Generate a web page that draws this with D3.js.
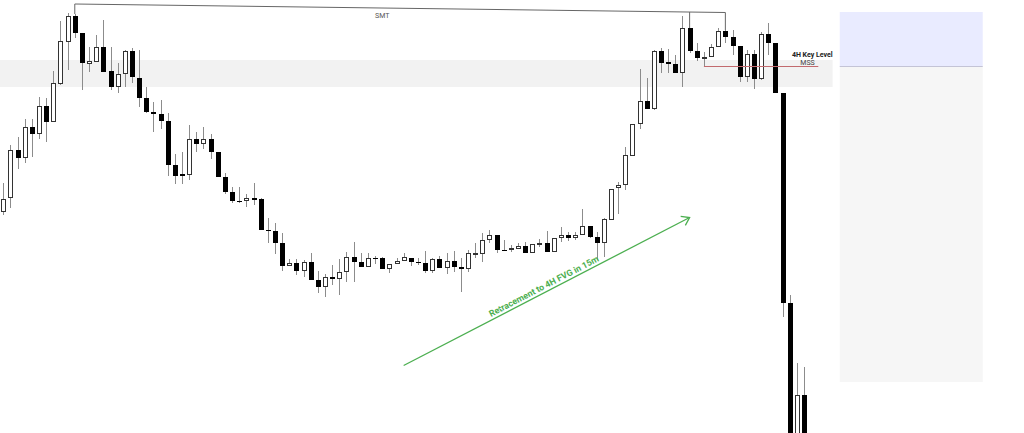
<!DOCTYPE html>
<html>
<head>
<meta charset="utf-8">
<script src="https://cdn.jsdelivr.net/npm/d3@7"></script>
<style>
  html, body { margin: 0; padding: 0; background: #fff; overflow: hidden; }
</style>
</head>
<body>
<div id="chart"></div>
<script>
const width = 1024;
const height = 433;

// OHLC prices, one entry per candle
const open = [18076,18104,18200,18184,18246,18232,18288,18256,18332,18416,
  18468,18434,18372,18376,18406,18358,18326,18352,18398,18344,
  18304,18276,18272,18258,18170,18152,18150,18222,18212,18222,
  18196,18146,18116,18098,18098,18104,18102,18040,18038,18014,
  17968,17974,17958,17976,17940,17926,17946,17942,17956,17986,
  17976,17966,17984,17984,17962,17972,17978,17984,17976,17974,
  17958,17982,17964,17978,17966,17962,17992,17992,18020,18030,
  18000,18000,18002,18008,17994,18012,18014,17996,18024,18030,
  18024,18030,18048,18026,18014,18060,18124,18130,18188,18252,
  18298,18282,18398,18376,18372,18354,18444,18398,18382,18386,
  18406,18438,18426,18408,18346,18392,18342,18432,18414,18314,
  17894,17580,17710];
const high = [18134,18210,18226,18262,18262,18306,18304,18358,18458,18474,
  18472,18434,18406,18430,18460,18406,18374,18400,18404,18400,
  18326,18296,18300,18274,18192,18196,18250,18236,18246,18232,
  18196,18154,18126,18126,18112,18134,18104,18064,18054,18034,
  17982,17982,17980,17994,17958,17952,17970,17982,17996,18016,
  17994,17994,17988,17986,17972,17984,17994,17984,17984,17998,
  17984,17988,17994,17998,17984,18000,18014,18034,18040,18030,
  18020,18010,18014,18016,18012,18022,18038,18024,18046,18036,
  18036,18082,18048,18036,18064,18122,18136,18206,18252,18362,
  18344,18400,18404,18402,18390,18468,18444,18414,18396,18412,
  18444,18440,18440,18408,18400,18400,18436,18454,18414,18314,
  17910,17774,17766];
const low = [18070,18084,18162,18174,18186,18222,18216,18256,18330,18360,
  18424,18320,18356,18376,18356,18320,18314,18326,18334,18286,
  18274,18236,18242,18148,18132,18132,18140,18196,18202,18182,
  18146,18112,18094,18094,18086,18090,18040,18014,17992,17958,
  17968,17950,17946,17940,17914,17906,17930,17910,17936,17936,
  17966,17966,17972,17962,17954,17972,17978,17968,17970,17954,
  17954,17964,17952,17956,17916,17956,17984,17976,18014,17994,
  17998,17996,18002,17994,17994,18006,17996,17996,18016,18018,
  18020,18030,18024,17980,17986,18060,18072,18120,18188,18242,
  18282,18280,18354,18354,18354,18326,18394,18378,18366,18386,
  18406,18414,18390,18336,18336,18322,18340,18390,18314,17866,
  17560,17560,17560];
const close = [18102,18200,18184,18246,18232,18288,18256,18334,18418,18468,
  18434,18374,18378,18406,18356,18326,18352,18398,18346,18304,
  18276,18272,18258,18170,18148,18148,18222,18212,18222,18196,
  18146,18116,18098,18096,18104,18100,18040,18038,18014,17968,
  17974,17958,17976,17940,17926,17946,17942,17956,17986,17976,
  17966,17984,17982,17962,17972,17978,17986,17976,17974,17958,
  17982,17964,17978,17966,17962,17994,17994,18020,18030,18000,
  17998,18004,18008,17994,18012,18014,17996,18024,18030,18024,
  18030,18048,18026,18014,18062,18122,18130,18190,18252,18298,
  18282,18398,18374,18372,18354,18444,18398,18384,18386,18406,
  18438,18426,18408,18346,18392,18342,18432,18414,18314,17894,
  17580,17710,17580];

// annotation levels (bar index, price)
const keyLevel = [18380, 18326];
const keyLevelBars = [-1, 116];
const mssPrice = 18367;
const mssBars = [98, 114];
const smtLine = [[10, 18492], [101, 18475]];
const smtBars = [10, 96, 101];
const panelBars = [117, 137];
const panelPrices = [18476, 18367, 17736];
const arrowFrom = [56, 17769];
const arrowTo = [96, 18065];

const candles = open.map((o, i) => ({
  i: i, o: o, h: high[i], l: low[i], c: close[i], up: close[i] > o
}));

const x = d3.scaleLinear().domain([0, 112]).range([3.3, 804]);
const y = d3.scaleLinear().domain([17634, 18500]).range([height, 0]);

const svg = d3.select('#chart')
  .append('svg')
  .attr('width', width)
  .attr('height', height)
  .style('font-family', 'Roboto, "Noto Sans", sans-serif');

// 4H key level zone
svg.append('rect')
  .attr('x', x(keyLevelBars[0]))
  .attr('y', y(keyLevel[0]))
  .attr('width', x(keyLevelBars[1]) - x(keyLevelBars[0]))
  .attr('height', y(keyLevel[1]) - y(keyLevel[0]))
  .attr('fill', '#f2f2f2');

// right side box
svg.append('rect')
  .attr('x', x(panelBars[0]))
  .attr('y', y(panelPrices[0]))
  .attr('width', x(panelBars[1]) - x(panelBars[0]))
  .attr('height', y(panelPrices[1]) - y(panelPrices[0]))
  .attr('fill', '#e9ebff');
svg.append('rect')
  .attr('x', x(panelBars[0]))
  .attr('y', y(panelPrices[1]))
  .attr('width', x(panelBars[1]) - x(panelBars[0]))
  .attr('height', y(panelPrices[2]) - y(panelPrices[1]))
  .attr('fill', '#f6f6f6');
svg.append('line')
  .attr('x1', x(panelBars[0]))
  .attr('x2', x(panelBars[1]))
  .attr('y1', y(panelPrices[1]))
  .attr('y2', y(panelPrices[1]))
  .attr('stroke', '#c4c4d6')
  .attr('stroke-width', 1.2);

// candles
const bodyW = 5;
const g = svg.append('g').attr('shape-rendering', 'crispEdges');

g.selectAll('line.wick')
  .data(candles)
  .enter()
  .append('line')
  .attr('class', 'wick')
  .attr('x1', d => Math.round(x(d.i)) + 0.5)
  .attr('x2', d => Math.round(x(d.i)) + 0.5)
  .attr('y1', d => y(d.h))
  .attr('y2', d => y(d.l))
  .attr('stroke', '#8c8c8c')
  .attr('stroke-width', 1);

g.selectAll('rect.body')
  .data(candles)
  .enter()
  .append('rect')
  .attr('class', 'body')
  .attr('x', d => Math.round(x(d.i)) - 2 + (d.up ? 0.5 : 0))
  .attr('y', d => y(Math.max(d.o, d.c)) + (d.up ? 0.5 : 0))
  .attr('width', d => d.up ? bodyW - 1 : bodyW)
  .attr('height', d => Math.max(1, Math.abs(y(d.o) - y(d.c)) - (d.up ? 1 : 0)))
  .attr('fill', d => d.up ? '#fff' : '#000')
  .attr('stroke', d => d.up ? '#333' : 'none')
  .attr('stroke-width', 1);

// SMT line
const smtY = i => {
  const t = (i - smtLine[0][0]) / (smtLine[1][0] - smtLine[0][0]);
  return smtLine[0][1] + t * (smtLine[1][1] - smtLine[0][1]);
};
svg.append('line')
  .attr('x1', x(smtLine[0][0]))
  .attr('y1', y(smtLine[0][1]))
  .attr('x2', x(smtLine[1][0]))
  .attr('y2', y(smtLine[1][1]))
  .attr('stroke', '#666')
  .attr('stroke-width', 1);
svg.selectAll('line.smt')
  .data(smtBars)
  .enter()
  .append('line')
  .attr('class', 'smt')
  .attr('x1', d => x(d))
  .attr('x2', d => x(d))
  .attr('y1', d => y(smtY(d)))
  .attr('y2', d => y(high[d]))
  .attr('stroke', '#666')
  .attr('stroke-width', 1);
svg.append('text')
  .attr('x', x(53))
  .attr('y', y(smtY(53)) + 9.5)
  .attr('text-anchor', 'middle')
  .attr('font-size', 7)
  .attr('fill', '#555')
  .text('SMT');

// MSS line and labels
svg.append('line')
  .attr('x1', x(mssBars[0]))
  .attr('x2', x(mssBars[1]))
  .attr('y1', y(mssPrice))
  .attr('y2', y(mssPrice))
  .attr('stroke', '#c26a6e')
  .attr('stroke-width', 1);
svg.append('text')
  .attr('x', x(keyLevelBars[1]))
  .attr('y', y(mssPrice) - 9.5)
  .attr('text-anchor', 'end')
  .attr('font-size', 7)
  .attr('font-weight', 'bold')
  .attr('fill', '#222')
  .text('4H Key Level');
svg.append('text')
  .attr('x', x(112.5))
  .attr('y', y(mssPrice) - 1.5)
  .attr('text-anchor', 'middle')
  .attr('font-size', 7)
  .attr('fill', '#444')
  .text('MSS');

// retracement arrow
const green = '#4caf50';
const ax1 = x(arrowFrom[0]), ay1 = y(arrowFrom[1]);
const ax2 = x(arrowTo[0]), ay2 = y(arrowTo[1]);
const ang = Math.atan2(ay2 - ay1, ax2 - ax1);
svg.append('line')
  .attr('x1', ax1).attr('y1', ay1)
  .attr('x2', ax2).attr('y2', ay2)
  .attr('stroke', green)
  .attr('stroke-width', 1.3);
const headLen = 9;
const head = [ang + Math.PI - 0.6, ang + Math.PI + 0.6].map(a =>
  [ax2 + headLen * Math.cos(a), ay2 + headLen * Math.sin(a)]);
svg.append('path')
  .attr('d', 'M' + head[0] + 'L' + ax2 + ',' + ay2 + 'L' + head[1])
  .attr('fill', 'none')
  .attr('stroke', green)
  .attr('stroke-width', 1.3);
const mx = (ax1 + ax2) / 2, my = (ay1 + ay2) / 2;
svg.append('text')
  .attr('transform', 'translate(' + mx + ',' + my + ') rotate(' + (ang * 180 / Math.PI) + ')')
  .attr('y', -3)
  .attr('text-anchor', 'middle')
  .attr('font-size', 8.8)
  .attr('font-weight', 'bold')
  .attr('fill', green)
  .text('Retracement to 4H FVG in 15m');
</script>
</body>
</html>
